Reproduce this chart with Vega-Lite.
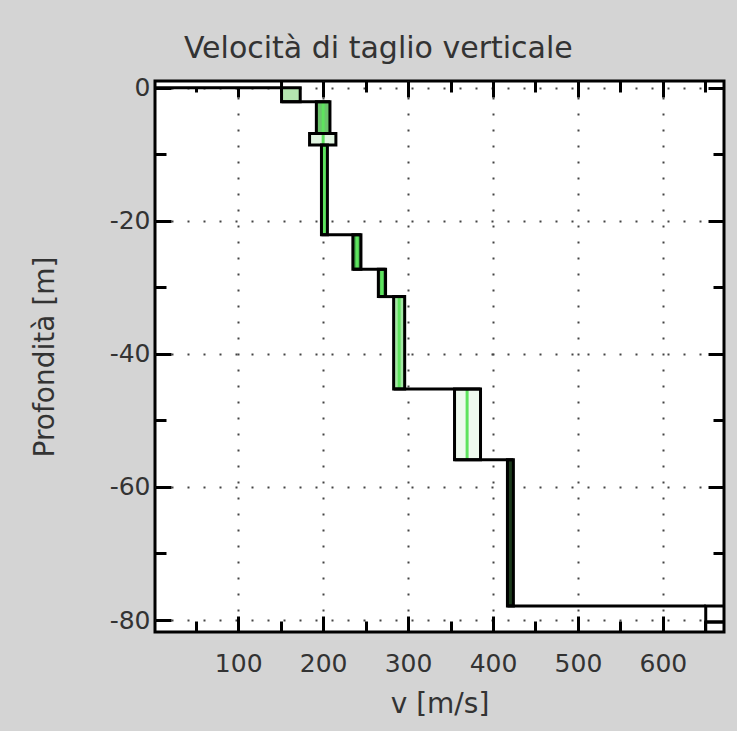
{
  "$schema": "https://vega.github.io/schema/vega-lite/v6.json",
  "width": 569,
  "height": 551,
  "autosize": {"type": "none"},
  "padding": {"left": 155, "top": 81, "right": 13, "bottom": 99},
  "background": "#d4d4d4",
  "title": {"text": "Velocità di taglio verticale", "fontSize": 30, "font": "DejaVu Sans", "fontWeight": "normal", "color": "#333333", "anchor": "middle", "frame": "bounds", "baseline": "alphabetic", "offset": -12},
  "config": {"view": {"stroke": "#000000", "strokeWidth": 3, "fill": "#ffffff"}, "font": "DejaVu Sans"},
  "datasets": {
    "boxes": [
      {"layer": "L0", "top": 1, "bottom": 0, "vmin": 2, "vmax": 151},
      {"layer": "L1", "top": 0, "bottom": -2.1, "vmin": 151, "vmax": 173},
      {"layer": "L2", "top": -2.1, "bottom": -6.9, "vmin": 192, "vmax": 208},
      {"layer": "L2b", "top": -6.9, "bottom": -8.6, "vmin": 184, "vmax": 215},
      {"layer": "L3", "top": -8.6, "bottom": -22.1, "vmin": 198, "vmax": 205},
      {"layer": "L4", "top": -22.1, "bottom": -27.3, "vmin": 235, "vmax": 244.5},
      {"layer": "L5", "top": -27.3, "bottom": -31.4, "vmin": 265, "vmax": 273.5},
      {"layer": "L6", "top": -31.4, "bottom": -45.3, "vmin": 283, "vmax": 296},
      {"layer": "L7", "top": -45.3, "bottom": -55.9, "vmin": 354.7, "vmax": 385.3},
      {"layer": "L8", "top": -55.9, "bottom": -77.9, "vmin": 417, "vmax": 424},
      {"layer": "L9", "top": -77.9, "bottom": -80.3, "vmin": 650.5, "vmax": 672},
      {"layer": "L10", "top": -80.3, "bottom": -81.8, "vmin": 650.5, "vmax": 672}
    ],
    "centers": [
      {"top": -2.1, "bottom": -6.9, "v": 200},
      {"top": -6.9, "bottom": -8.6, "v": 200},
      {"top": -8.6, "bottom": -22.1, "v": 201.5},
      {"top": -22.1, "bottom": -27.3, "v": 240},
      {"top": -27.3, "bottom": -31.4, "v": 269},
      {"top": -31.4, "bottom": -45.3, "v": 289.5},
      {"top": -45.3, "bottom": -55.9, "v": 369.5}
    ],
    "steps": [
      {"depth": -2.1, "v1": 151, "v2": 208},
      {"depth": -22.1, "v1": 198, "v2": 244.5},
      {"depth": -27.3, "v1": 235, "v2": 273.5},
      {"depth": -31.4, "v1": 265, "v2": 296},
      {"depth": -45.3, "v1": 283, "v2": 385.3},
      {"depth": -55.9, "v1": 354.7, "v2": 424},
      {"depth": -77.9, "v1": 417, "v2": 650.5}
    ]
  },
  "layer": [
    {
      "data": {"name": "boxes"},
      "mark": {"type": "rect", "clip": true, "strokeWidth": 0},
      "encoding": {
        "x": {"field": "vmin", "type": "quantitative",
          "scale": {"domain": [2, 672], "nice": false, "zero": false},
          "axis": {"orient": "bottom", "title": "v [m/s]", "values": [50,100,150,200,250,300,350,400,450,500,550,600,650],
            "labelExpr": "datum.value % 100 === 0 ? datum.label : ''",
            "labelFontSize": 25, "labelColor": "#333333", "labelPadding": 35, "labelFont": "DejaVu Sans",
            "titleFontSize": 28, "titleColor": "#333333", "titleFontWeight": "normal", "titlePadding": 14, "titleFont": "DejaVu Sans",
            "domain": false,
            "tickColor": "#000000", "tickWidth": 3,
            "tickSize": {"condition": {"test": "datum.value % 100 === 0", "value": -16}, "value": -11},
            "grid": true, "gridColor": "#444444", "gridWidth": 2, "gridDash": [2, 14],
            "gridOpacity": {"condition": {"test": "datum.value % 100 === 0", "value": 1}, "value": 0}
          }},
        "x2": {"field": "vmax"},
        "y": {"field": "top", "type": "quantitative",
          "scale": {"domain": [-81.8, 1], "nice": false, "zero": false},
          "axis": {"orient": "left", "title": "Profondità [m]", "values": [0,-10,-20,-30,-40,-50,-60,-70,-80],
            "labelExpr": "datum.value % 20 === 0 ? toString(datum.value) : ''",
            "labelFontSize": 25, "labelColor": "#333333", "labelPadding": 21, "labelFont": "DejaVu Sans",
            "titleFontSize": 28, "titleColor": "#333333", "titleFontWeight": "normal", "titlePadding": 50, "titleFont": "DejaVu Sans",
            "domain": false,
            "tickColor": "#000000", "tickWidth": 3,
            "tickSize": {"condition": {"test": "datum.value % 20 === 0", "value": -16}, "value": -11},
            "grid": true, "gridColor": "#444444", "gridWidth": 2, "gridDash": [2, 14],
            "gridOpacity": {"condition": {"test": "datum.value % 20 === 0", "value": 1}, "value": 0}
          }},
        "y2": {"field": "bottom"},
        "color": {"field": "layer", "type": "nominal", "legend": null,
          "scale": {"domain": ["L0","L1","L2","L2b","L3","L4","L5","L6","L7","L8","L9","L10"],
                    "range": ["#ffffff","#b4e6b0","#6cc46c","#e2f6e2","#4caf50","#3e9e46","#3e9e46","#a6e8a6","#eefaee","#1c3a1c","#ffffff","#ffffff"]}}
      }
    },
    {
      "data": {"name": "centers"},
      "mark": {"type": "rule", "color": "#5ee35e", "strokeWidth": 3},
      "encoding": {
        "x": {"field": "v", "type": "quantitative",
          "axis": {"orient": "top", "title": null, "labels": false, "domain": false, "grid": false, "minExtent": 0,
            "values": [50,100,150,200,250,300,350,400,450,500,550,600,650],
            "tickColor": "#000000", "tickWidth": 3,
            "tickSize": {"condition": {"test": "datum.value % 100 === 0", "value": -16}, "value": -11}}},
        "y": {"field": "top", "type": "quantitative",
          "axis": {"orient": "right", "title": null, "labels": false, "domain": false, "grid": false, "minExtent": 0,
            "values": [0,-10,-20,-30,-40,-50,-60,-70,-80],
            "tickColor": "#000000", "tickWidth": 3,
            "tickSize": {"condition": {"test": "datum.value % 20 === 0", "value": -16}, "value": -11}}},
        "y2": {"field": "bottom"}
      }
    },
    {
      "data": {"name": "boxes"},
      "mark": {"type": "rect", "clip": true, "fill": "transparent", "stroke": "#000000", "strokeWidth": 3},
      "encoding": {
        "x": {"field": "vmin", "type": "quantitative", "axis": null},
        "x2": {"field": "vmax"},
        "y": {"field": "top", "type": "quantitative", "axis": null},
        "y2": {"field": "bottom"}
      }
    },
    {
      "data": {"name": "steps"},
      "mark": {"type": "rule", "color": "#000000", "strokeWidth": 3},
      "encoding": {
        "x": {"field": "v1", "type": "quantitative", "axis": null},
        "x2": {"field": "v2"},
        "y": {"field": "depth", "type": "quantitative", "axis": null}
      }
    }
  ]
}
